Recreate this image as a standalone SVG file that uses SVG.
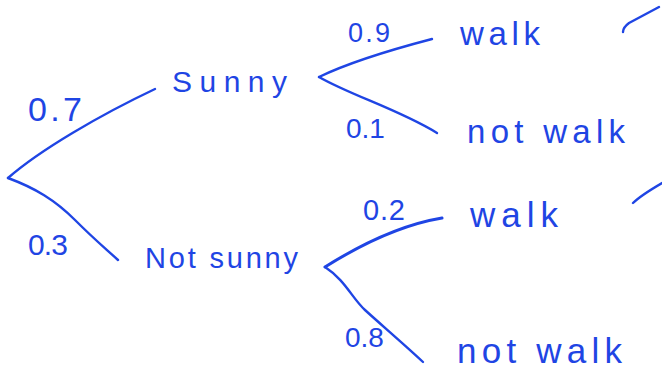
<svg xmlns="http://www.w3.org/2000/svg" width="662" height="372" viewBox="0 0 662 372">
<style>
.ln{fill:none;stroke:#1f45e4;stroke-width:2.4;stroke-linecap:round;stroke-linejoin:round}
.t{fill:#1f45e4;font-family:"Liberation Sans",Arial,sans-serif;}
</style>
<rect width="662" height="372" fill="#ffffff"/>
<g id="connectors">
<path class="ln" d="M8,178 C40,150 100,115 155,89"/>
<path class="ln" d="M8,178 C35,188 55,200 75,220 S105,248 118,260"/>
<path class="ln" d="M319,77 C350,62 390,50 432,39"/>
<path class="ln" d="M319,77 C350,95 400,110 437,133"/>
<path class="ln" d="M325,267 C360,245 400,225 442,218" style="stroke-width:3"/>
<path class="ln" d="M325,267 C345,280 352,298 365,310 S405,345 423,362"/>
<path class="ln" d="M623,32 C623,29 625,26 629,23 L659,7"/>
<path class="ln" d="M633,203 C640,196 650,190 662,183"/>
</g>
<g id="label-07"><text class="t" x="28" y="121" font-size="34" textLength="54" lengthAdjust="spacing">0.7</text></g>
<g id="label-03"><text class="t" x="28" y="255" font-size="30" textLength="40" lengthAdjust="spacing">0.3</text></g>
<g id="node-sunny"><text class="t" x="172" y="92" font-size="30" textLength="115" lengthAdjust="spacing">Sunny</text></g>
<g id="node-not-sunny"><text class="t" x="145" y="268" font-size="29" textLength="153" lengthAdjust="spacing">Not sunny</text></g>
<g id="label-09"><text class="t" x="348" y="42" font-size="27" textLength="42" lengthAdjust="spacing">0.9</text></g>
<g id="label-01"><text class="t" x="346" y="138" font-size="28">0.1</text></g>
<g id="node-walk-1"><text class="t" x="460" y="45" font-size="33" textLength="80" lengthAdjust="spacing">walk</text></g>
<g id="node-not-walk-1"><text class="t" x="467" y="143" font-size="33" textLength="158" lengthAdjust="spacing">not walk</text></g>
<g id="label-02"><text class="t" x="363" y="220" font-size="29" textLength="42" lengthAdjust="spacing">0.2</text></g>
<g id="label-08"><text class="t" x="345" y="347" font-size="28">0.8</text></g>
<g id="node-walk-2"><text class="t" x="470" y="227" font-size="35" textLength="88" lengthAdjust="spacing">walk</text></g>
<g id="node-not-walk-2"><text class="t" x="457" y="363" font-size="35" textLength="165" lengthAdjust="spacing">not walk</text></g>
</svg>
